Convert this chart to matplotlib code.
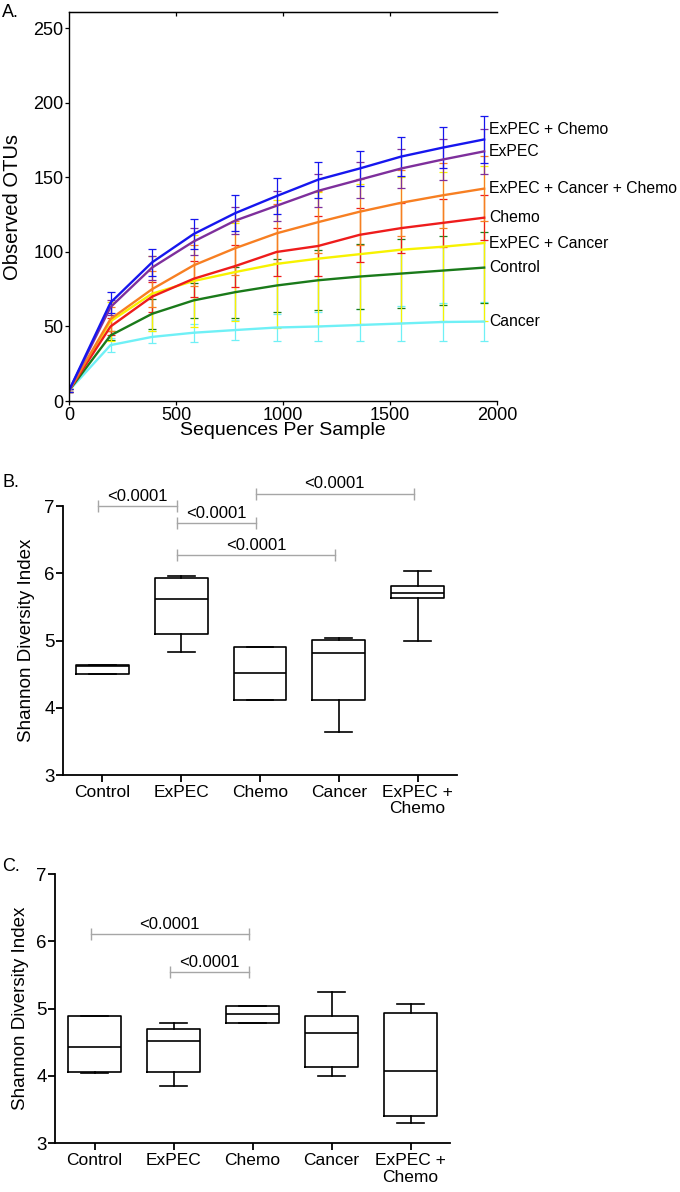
import matplotlib
matplotlib.use("Agg")
import matplotlib.pyplot as plt

plt.rcParams['font.family'] = ['Liberation Sans', 'DejaVu Sans']

# ---- panel A: rarefaction curves (observed OTUs vs sequencing depth)
depth = [0, 194, 388, 582, 776, 970, 1164, 1358, 1552, 1746, 1940]
names_a = ['ExPEC + Chemo', 'ExPEC', 'ExPEC + Cancer + Chemo', 'Chemo',
           'ExPEC + Cancer', 'Control', 'Cancer']
otu_expec_chemo = [7, 66, 93, 112, 126, 137.5, 148.5, 156, 164, 170, 175.5]
otu_expec = [7, 63, 89.5, 107, 121, 131, 141, 148.5, 156, 162, 167.5]
otu_expec_cancer_chemo = [7, 55, 75, 91, 102.5, 112.5, 120, 127, 133, 138, 142.5]
otu_chemo = [7, 50, 70, 82, 90.5, 100, 104, 111.5, 116, 119.5, 123]
otu_expec_cancer = [7, 53.5, 72, 80.5, 86.5, 92, 95.5, 98.5, 101.5, 103.5, 106]
otu_control = [7, 44, 58.5, 67.5, 73, 77.5, 81, 83.5, 85.5, 87.5, 89.5]
otu_cancer = [7, 37.5, 43, 45.8, 47.6, 49.3, 50, 51, 52, 53, 53.3]

err_expec_chemo = [1, 7, 9, 10, 12, 12, 12, 12, 13, 14, 16]
err_expec = [1, 5, 8, 9, 9, 10, 11, 12, 13, 14, 15]
err_expec_cancer_chemo = [1, 8, 12, 14, 18, 20, 21, 22, 22, 22, 22]
err_chemo = [1, 6, 10, 12, 14, 16, 20, 18, 17, 16, 15]
err_expec_cancer = [1, 13, 25, 31, 33, 43, 45, 47, 49, 50, 52]
err_control = [1, 3, 10, 12, 17, 18, 20, 22, 23, 23, 24]
err_cancer = [1, 4.5, 4, 6, 7, 9, 10, 11, 12, 13, 13]

# ---- panels B and C: Shannon diversity boxes
groups = ['Control', 'ExPEC', 'Chemo', 'Cancer', 'ExPEC +\nChemo']

b_whislo = [4.50, 4.83, 4.11, 3.64, 4.99]
b_q1 = [4.50, 5.09, 4.11, 4.11, 5.635]
b_med = [4.62, 5.62, 4.51, 4.81, 5.70]
b_q3 = [4.63, 5.93, 4.90, 5.01, 5.81]
b_whishi = [4.63, 5.955, 4.91, 5.04, 6.03]
b_pairs = [(0, 1, 7.0), (1, 2, 6.745), (2, 4, 7.185), (1, 3, 6.27)]

c_whislo = [4.04, 3.85, 4.79, 4.00, 3.29]
c_q1 = [4.05, 4.05, 4.79, 4.13, 3.40]
c_med = [4.43, 4.51, 4.92, 4.64, 4.065]
c_q3 = [4.89, 4.69, 5.04, 4.89, 4.94]
c_whishi = [4.89, 4.79, 5.04, 5.24, 5.06]
c_pairs = [(0, 2, 6.11), (1, 2, 5.545)]

p_text = '<0.0001'

W, H = 680, 1192
fig = plt.figure(figsize=(W / 100, H / 100), dpi=100)


def px_box(left, top, right, bottom):
    return [left / W, 1 - bottom / H, (right - left) / W, (bottom - top) / H]


# ================= A =================
axA = fig.add_axes(px_box(69, 12, 497, 401))
series = [
    (otu_cancer, err_cancer, '#6ff0f6', 'Cancer'),
    (otu_control, err_control, '#1a7a1a', 'Control'),
    (otu_expec_cancer, err_expec_cancer, '#f7f200', 'ExPEC + Cancer'),
    (otu_chemo, err_chemo, '#ee1c1c', 'Chemo'),
    (otu_expec_cancer_chemo, err_expec_cancer_chemo, '#f77f22', 'ExPEC + Cancer + Chemo'),
    (otu_expec, err_expec, '#7e2f9c', 'ExPEC'),
    (otu_expec_chemo, err_expec_chemo, '#1616ee', 'ExPEC + Chemo'),
]
label_shift = {'ExPEC + Chemo': 7}
for vals, err, col, name in series:
    axA.errorbar(depth, vals, yerr=err, color=col, lw=1.7, elinewidth=0.9,
                 capsize=3, capthick=0.9, ecolor=col)
    axA.annotate(name, xy=(1962, vals[-1]), xytext=(0, label_shift.get(name, 0)),
                 textcoords='offset points', va='center', ha='left',
                 fontsize=11.3, annotation_clip=False)

axA.set_xlim(0, 2000)
axA.set_ylim(0, 261)
axA.set_xticks([0, 500, 1000, 1500, 2000])
axA.set_yticks([0, 50, 100, 150, 200, 250])
axA.spines['right'].set_visible(False)
for s in axA.spines.values():
    s.set_linewidth(1.0)
axA.tick_params(labelsize=13, length=3, width=0.9, pad=1)
top = axA.secondary_xaxis('top')
top.set_xticks([500, 1000, 1500])
top.tick_params(direction='in', length=3, width=0.9, labeltop=False)
axA.set_xlabel('Sequences Per Sample', fontsize=14, labelpad=-1)
axA.set_ylabel('Observed OTUs', fontsize=14.5)
axA.yaxis.set_label_coords(-0.11, 0.5)
fig.text(2 / W, 1 - 4 / H, 'A.', fontsize=13, va='top')


# ================= B / C =================
def shannon_panel(ax, whislo, q1, med, q3, whishi, pairs, ylab_x, spacing):
    stats = []
    for i in range(len(groups)):
        stats.append(dict(whislo=whislo[i], q1=q1[i], med=med[i],
                          q3=q3[i], whishi=whishi[i], fliers=[]))
    lp = dict(color='black', linewidth=1.2)
    ax.bxp(stats, positions=range(len(groups)), widths=0.67, capwidths=0.34,
           showfliers=False, boxprops=lp, medianprops=lp, whiskerprops=lp,
           capprops=lp)
    for a, b, y in pairs:
        ax.plot([a - 0.05, b - 0.05], [y, y], color='#a6a6a6', lw=1.0,
                marker='|', markersize=8, markeredgewidth=1.0, clip_on=False)
        ax.annotate(p_text, xy=((a + b) / 2 - 0.05, y), xytext=(0, 1.5),
                    textcoords='offset points', ha='center', va='bottom',
                    fontsize=12, annotation_clip=False)
    ax.set_xlim(-0.5, 4.5)
    ax.set_ylim(3, 7)
    ax.set_yticks([3, 4, 5, 6, 7])
    ax.set_xticks(range(len(groups)))
    ax.set_xticklabels(groups, fontsize=12.5, linespacing=spacing)
    ax.spines['right'].set_visible(False)
    ax.spines['top'].set_visible(False)
    ax.spines['left'].set_linewidth(1.3)
    ax.spines['bottom'].set_linewidth(1.3)
    ax.tick_params(axis='y', labelsize=13.5, length=5, width=1.3, pad=1)
    ax.tick_params(axis='x', length=5, width=1.3, pad=2)
    ax.set_ylabel('Shannon Diversity Index', fontsize=13.5)
    ax.yaxis.set_label_coords(ylab_x, 0.5)


axB = fig.add_axes(px_box(63, 506, 457, 775))
shannon_panel(axB, b_whislo, b_q1, b_med, b_q3, b_whishi, b_pairs, -0.071, 1.1)
fig.text(2 / W, 1 - 474 / H, 'B.', fontsize=13, va='top')

axC = fig.add_axes(px_box(55, 874, 450, 1143))
shannon_panel(axC, c_whislo, c_q1, c_med, c_q3, c_whishi, c_pairs, -0.066, 1.2)
fig.text(2 / W, 1 - 858 / H, 'C.', fontsize=13, va='top')

fig.savefig('out.png', dpi=100)
